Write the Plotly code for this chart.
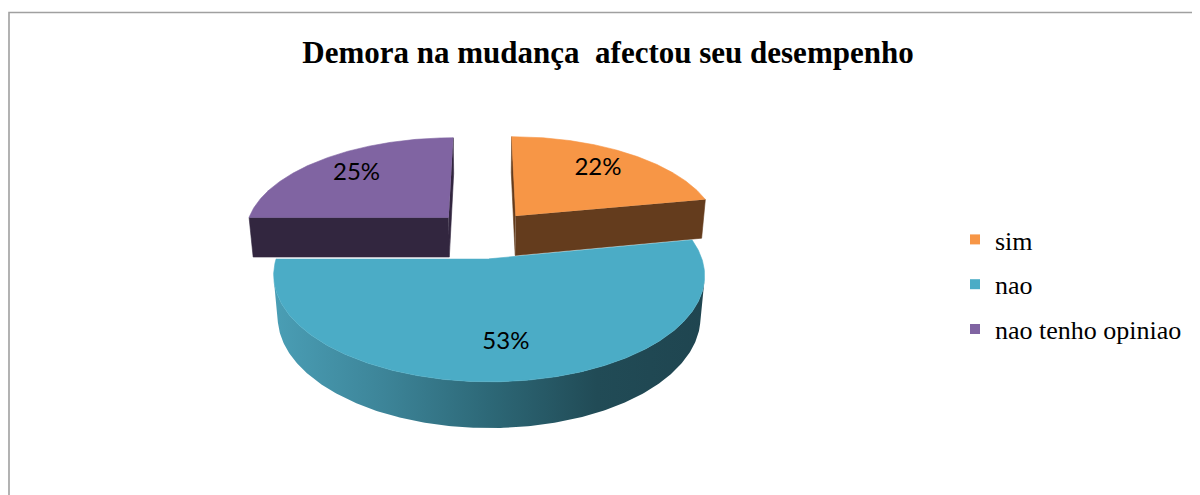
import numpy as np
import plotly.graph_objects as go

labels = ["sim", "nao", "nao tenho opiniao"]
values = [22, 53, 25]

top_colors = ["#F79646", "#4BACC6", "#8064A2"]
side_colors = ["#643C1D", "#2C6674", "#32263F"]
blue_side_scale = [[0, "#4A9EB5"], [0.25, "#3D8599"], [0.5, "#2D6877"],
                   [0.75, "#214B56"], [1, "#1F4550"]]

# fake 3d pie: perspective camera looking down on a tilted disc
TILT = np.radians(28)
DIST = 5.89
FOCAL = 1207
CX, CY = 484, 234
THICK = 0.227
EXPLODE = 0.25
LABEL_R = 0.72

# the page body has an 8px margin, so axes are offset to keep pixel coords
OFF = 8
W, H = 1200, 495

s, c = np.sin(TILT), np.cos(TILT)
cam = np.array([0.0, -DIST * c, DIST * s])


def proj(X, Y, Z):
    X, Y, Z = np.asarray(X, float), np.asarray(Y, float), np.asarray(Z, float)
    depth = DIST + Y * c - Z * s
    return CX + FOCAL * X / depth, CY - FOCAL * (Y * s + Z * c) / depth


def faces(v, n):
    return np.dot(n, cam - np.asarray(v)) > 0


fig = go.Figure()


def poly(xs, ys, color=None, gradient=None):
    tr = go.Scatter(x=list(xs), y=list(ys), mode="lines", fill="toself",
                    line=dict(width=0), showlegend=False, hoverinfo="skip")
    if gradient is not None:
        tr.fillgradient = dict(type="horizontal", colorscale=gradient)
    else:
        tr.fillcolor = color
        tr.line = dict(width=0.6, color=color)
    fig.add_trace(tr)


frac = np.array(values) / sum(values)
ends = np.cumsum(frac) * 2 * np.pi
starts = ends - frac * 2 * np.pi

slices = []
for i in range(len(values)):
    a0, a1 = starts[i], ends[i]
    mid = (a0 + a1) / 2
    ox, oy = EXPLODE * np.sin(mid), EXPLODE * np.cos(mid)
    slices.append((oy, i, a0, a1, mid, ox))

label_x, label_y, label_t = [], [], []
# far slices first
for oy, i, a0, a1, mid, ox in sorted(slices, reverse=True):
    angs = np.linspace(a0, a1, 300)
    rx, ry = ox + np.sin(angs), oy + np.cos(angs)

    # radial side walls
    for a, n in [(a0, (-np.cos(a0), np.sin(a0), 0)), (a1, (np.cos(a1), -np.sin(a1), 0))]:
        if faces((ox, oy, 0), n):
            X = [ox, ox + np.sin(a), ox + np.sin(a), ox]
            Y = [oy, oy + np.cos(a), oy + np.cos(a), oy]
            Z = [0, 0, -THICK, -THICK]
            px, py = proj(X, Y, Z)
            poly(px, py, side_colors[i])

    # outer curved wall
    vis = np.sin(angs) * (0 - rx) + np.cos(angs) * (cam[1] - ry) > 0
    if vis.any():
        idx = np.where(vis)[0]
        runs = np.split(idx, np.where(np.diff(idx) > 1)[0] + 1)
        for run in runs:
            tx, ty = proj(rx[run], ry[run], np.zeros(len(run)))
            bx, by = proj(rx[run], ry[run], np.full(len(run), -THICK))
            xs = np.concatenate([tx, bx[::-1]])
            ys = np.concatenate([ty, by[::-1]])
            if i == 1:
                poly(xs, ys, gradient=blue_side_scale)
            else:
                poly(xs, ys, side_colors[i])

    # top face
    tx, ty = proj(np.concatenate([[ox], rx]), np.concatenate([[oy], ry]),
                  np.zeros(len(rx) + 1))
    poly(tx, ty, top_colors[i])

    lx, ly = proj(ox + LABEL_R * np.sin(mid), oy + LABEL_R * np.cos(mid), 0)
    label_x.append(float(lx))
    label_y.append(float(ly))
    label_t.append(f"{values[i]}%")

fig.add_trace(go.Scatter(x=label_x, y=label_y, text=label_t, mode="text",
                         textposition="middle center", showlegend=False,
                         hoverinfo="skip",
                         textfont=dict(family="Lato", size=24, color="black")))

for i, name in enumerate(labels):
    fig.add_trace(go.Scatter(x=[None], y=[None], mode="markers", name=name,
                             legendgroup=name,
                             marker=dict(symbol="square", size=10, color=top_colors[i])))

# chart frame (right and bottom edges fall outside the picture)
fig.add_shape(type="rect", x0=9, y0=12.5, x1=1215, y1=510,
              line=dict(color="#A0A0A0", width=1.6), layer="above")

fw, fh = W - OFF, H - OFF
fig.update_layout(
    width=fw, height=fh,
    margin=dict(l=0, r=0, t=0, b=0),
    paper_bgcolor="white", plot_bgcolor="white",
    xaxis=dict(range=[OFF, W], visible=False, fixedrange=True),
    yaxis=dict(range=[H, OFF], visible=False, fixedrange=True),
    title=dict(text="<b>Demora na mudança\u00a0 afectou seu desempenho</b>",
               x=(608 - OFF) / fw, xanchor="center", y=1 - (52 - OFF) / fh,
               yanchor="middle", yref="container",
               font=dict(family="Liberation Serif", size=31, color="black")),
    legend=dict(x=(955 - OFF) / fw, y=1 - (216 - OFF) / fh, xanchor="left", yanchor="top",
                font=dict(family="Liberation Serif", size=26, color="black"),
                tracegroupgap=8, bgcolor="rgba(0,0,0,0)"),
)

fig.write_html("out.html")
